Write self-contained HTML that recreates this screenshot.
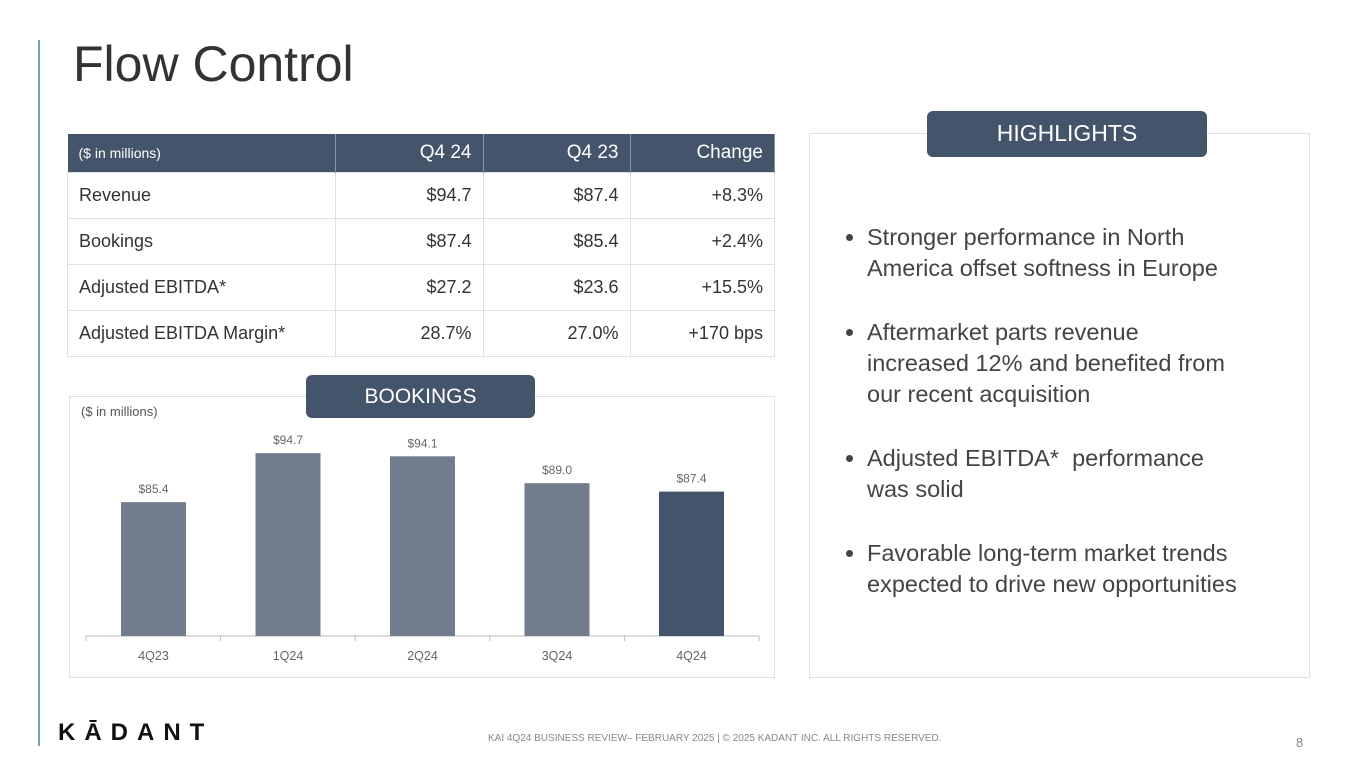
<!DOCTYPE html>
<html><head><meta charset="utf-8"><style>
body{margin:0;width:1365px;height:768px;background:#fff;font-family:"Liberation Sans",sans-serif;position:relative;overflow:hidden;color:#333}
.abs{position:absolute}
table{border-collapse:collapse;position:absolute;left:67px;top:134px;width:708px;font-size:18px;color:#333}
th{background:#44546a;color:#fff;font-weight:normal;height:38px;padding:0 11px;text-align:right;font-size:19px;border-right:1px solid #8a96a8}
th:first-child{text-align:left;font-size:14px}
td{height:45px;border:1px solid #dde0e4;padding:0 11px;text-align:right}
td:first-child{text-align:left}
.pill{position:absolute;background:#44546a;color:#fff;border-radius:6px;text-align:center;font-size:21px}
li{margin-bottom:33px}
</style></head><body>
<div class="abs" style="left:38px;top:40px;width:2px;height:706px;background:#6aa8b0"></div>
<div class="abs" style="left:73px;top:35px;font-size:50px;color:#333">Flow Control</div>
<table>
<tr><th style="width:245px">($ in millions)</th><th style="width:125px">Q4 24</th><th style="width:124px">Q4 23</th><th>Change</th></tr>
<tr><td>Revenue</td><td>$94.7</td><td>$87.4</td><td>+8.3%</td></tr>
<tr><td>Bookings</td><td>$87.4</td><td>$85.4</td><td>+2.4%</td></tr>
<tr><td>Adjusted EBITDA*</td><td>$27.2</td><td>$23.6</td><td>+15.5%</td></tr>
<tr><td>Adjusted EBITDA Margin*</td><td>28.7%</td><td>27.0%</td><td>+170 bps</td></tr>
</table>
<div class="abs" style="left:69px;top:396px;width:704px;height:280px;border:1px solid #dde0e4"></div>
<div class="pill" style="left:306px;top:375px;width:229px;height:43px;line-height:43px">BOOKINGS</div>
<div class="abs" style="left:81px;top:404px;font-size:13px;color:#555">($ in millions)</div>
<svg class="abs" style="left:0;top:0" width="800" height="700" id="chart"></svg>
<div class="abs" style="left:809px;top:133px;width:499px;height:543px;border:1px solid #dde0e4"></div>
<div class="pill" style="left:927px;top:111px;width:280px;height:46px;line-height:44px;font-size:23px">HIGHLIGHTS</div>
<ul class="abs" style="left:828px;top:222px;margin:0;padding-left:39px;width:378px;font-size:23.5px;line-height:31px;color:#444">
<li>Stronger performance in North America offset softness in Europe</li>
<li>Aftermarket parts revenue increased 12% and benefited from our recent acquisition</li>
<li>Adjusted EBITDA*&nbsp; performance was solid</li>
<li>Favorable long-term market trends expected to drive new opportunities</li>
</ul>
<div class="abs" style="left:58px;top:719px;font-size:24px;font-weight:bold;letter-spacing:9px;color:#111">KĀDANT</div>
<div class="abs" style="left:488px;top:733px;font-size:10px;color:#888">KAI 4Q24 BUSINESS REVIEW– FEBRUARY 2025 | © 2025 KADANT INC. ALL RIGHTS RESERVED.</div>
<div class="abs" style="left:1296px;top:735px;font-size:13px;color:#888">8</div>
<script>
const categories=["4Q23","1Q24","2Q24","3Q24","4Q24"];
const values=[85.4,94.7,94.1,89.0,87.4];
const labels=["$85.4","$94.7","$94.1","$89.0","$87.4"];
const svg=document.getElementById('chart');const NS="http://www.w3.org/2000/svg";
const base=636,ymin=60,k=5.27;
const y=v=>base-(v-ymin)*k;
const x=i=>121+i*134.5;
function mk(t,a){const e=document.createElementNS(NS,t);for(const n in a)e.setAttribute(n,a[n]);svg.appendChild(e);return e;}
const ax=mk('line',{x1:86,x2:759,y1:base,y2:base,stroke:'#bbb'});


for(let i=0;i<=5;i++){const t=mk('line',{x1:86+i*134.6,x2:86+i*134.6,y1:base,y2:base+5,stroke:'#bbb'});

}
values.forEach((v,i)=>{
const r=mk('rect',{x:x(i),y:y(v),width:65,height:base-y(v),fill:i==4?'#44546a':'#717d8d'});


const l=mk('text',{x:x(i)+32.5,y:y(v)-9,'text-anchor':'middle','font-size':12,fill:'#666','font-family':'Liberation Sans'});l.textContent=labels[i];


const c=mk('text',{x:x(i)+32.5,y:660,'text-anchor':'middle','font-size':12.5,fill:'#666','font-family':'Liberation Sans'});c.textContent=categories[i];


});
</script>
</body></html>
